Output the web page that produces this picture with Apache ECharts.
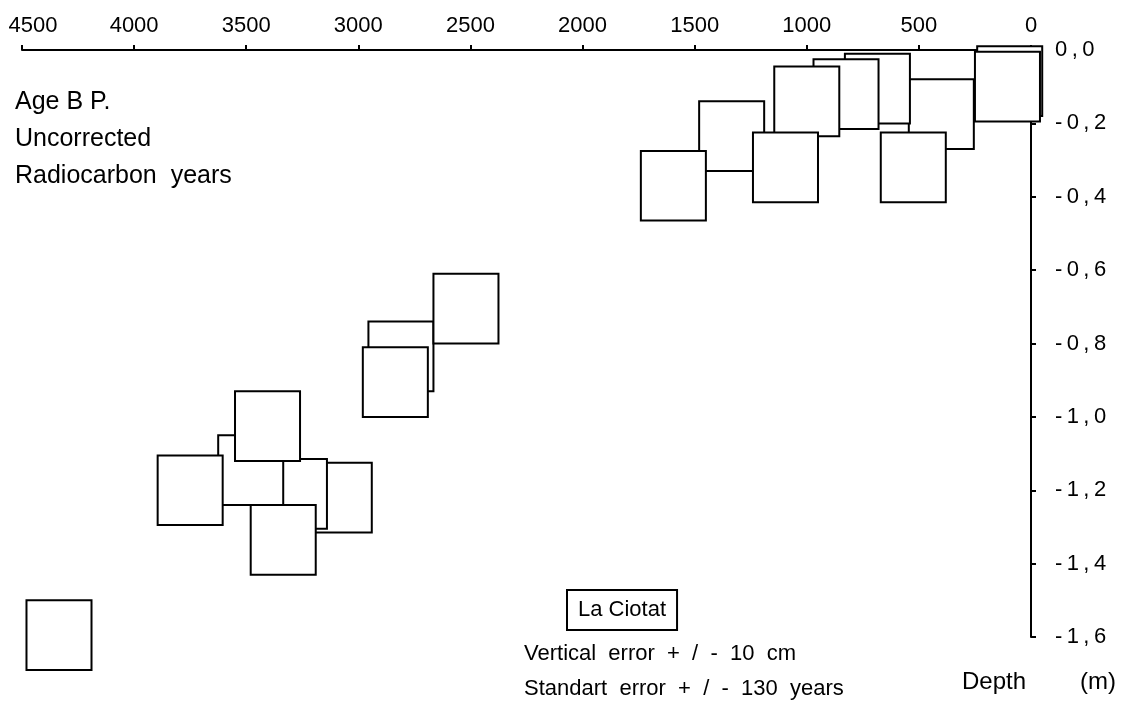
<!DOCTYPE html>
<html>
<head>
<meta charset="utf-8">
<script src="https://cdn.jsdelivr.net/npm/echarts@6/dist/echarts.min.js"></script>
<style>
html, body { margin: 0; background: #fff; }
#chart { width: 1133px; height: 707px; }
</style>
</head>
<body>
<div id="chart"></div>
<script>
// radiocarbon samples, drawn back to front (later boxes hide earlier ones)
var ages   = [95, 105, 400, 525, 685, 825, 1000, 1335, 1095, 1595,
              2810, 2520, 2835, 3085, 3285, 3480, 3405, 3750, 3335, 4335];
var depths = [-0.085, -0.10, -0.175, -0.32, -0.105, -0.12, -0.14, -0.235, -0.32, -0.37,
              -0.835, -0.705, -0.905, -1.22, -1.21, -1.145, -1.025, -1.20, -1.335, -1.595];

// half box size as drawn (years, metres)
var AGE_ERR = 145;
var DEPTH_ERR = 0.095;

var FONT = 'Liberation Sans';
var TS = '\u2009';

var myChart = echarts.init(document.getElementById('chart'));

var points = ages.map(function (a, i) { return [a, depths[i]]; });

myChart.setOption({
	animation: false,
	grid: { left: 22, right: 102, top: 50, bottom: 70, outerBoundsMode: 'none' },
	xAxis: {
		type: 'value',
		position: 'top',
		inverse: true,
		min: 0,
		max: 4500,
		interval: 500,
		axisLine: { lineStyle: { color: '#000', width: 2 } },
		axisTick: { length: 5, lineStyle: { color: '#000', width: 2 } },
		splitLine: { show: false },
		axisLabel: {
			color: '#000', fontSize: 22, fontFamily: FONT, margin: 13,
			formatter: function (v) {
				// first label sits right of its tick in the original
				return v === 4500 ? '{first|' + v + '}' : String(v);
			},
			rich: {
				first: { fontSize: 22, fontFamily: FONT, color: '#000', padding: [0, 0, 0, 22] }
			}
		}
	},
	yAxis: {
		type: 'value',
		position: 'right',
		min: -1.6,
		max: 0,
		interval: 0.2,
		axisLine: { lineStyle: { color: '#000', width: 2 } },
		axisTick: { length: 5, lineStyle: { color: '#000', width: 2 } },
		splitLine: { show: false },
		axisLabel: {
			color: '#000', fontSize: 22, fontFamily: FONT, margin: 24,
			padding: [0, 0, 10, 0],
			formatter: function (v) {
				if (Math.abs(v) < 1e-9) return '0' + TS + ',' + TS + '0';
				var s = v.toFixed(1).replace('.', ',');
				return s.split('').join(TS);
			}
		}
	},
	series: [{
		type: 'custom',
		clip: false,
		data: points,
		renderItem: function (params, api) {
			var a = api.value(0), d = api.value(1);
			var p0 = api.coord([a + AGE_ERR, d + DEPTH_ERR]);
			var p1 = api.coord([a - AGE_ERR, d - DEPTH_ERR]);
			return {
				type: 'rect',
				shape: {
					x: Math.min(p0[0], p1[0]),
					y: Math.min(p0[1], p1[1]),
					width: Math.abs(p1[0] - p0[0]),
					height: Math.abs(p1[1] - p0[1])
				},
				style: { fill: '#fff', stroke: '#000', lineWidth: 2 }
			};
		}
	}],
	graphic: [
		{ type: 'text', left: 15, top: 90, style: { text: 'Age B P.', font: '25px ' + FONT, fill: '#000' } },
		{ type: 'text', left: 15, top: 127, style: { text: 'Uncorrected', font: '25px ' + FONT, fill: '#000' } },
		{ type: 'text', left: 15, top: 164, style: { text: 'Radiocarbon  years', font: '25px ' + FONT, fill: '#000' } },
		{
			type: 'text', left: 566, top: 589,
			style: {
				text: 'La Ciotat', font: '22px ' + FONT, fill: '#000',
				padding: [9, 11, 9, 11], borderColor: '#000', borderWidth: 2
			}
		},
		{ type: 'text', left: 524, top: 643, style: { text: 'Vertical  error  +  /  -  10  cm', font: '22px ' + FONT, fill: '#000' } },
		{ type: 'text', left: 524, top: 678, style: { text: 'Standart  error  +  /  -  130  years', font: '22px ' + FONT, fill: '#000' } },
		{ type: 'text', left: 962, top: 670, style: { text: 'Depth', font: '24px ' + FONT, fill: '#000' } },
		{ type: 'text', left: 1080, top: 670, style: { text: '(m)', font: '24px ' + FONT, fill: '#000' } }
	]
});

window.addEventListener('resize', function () {
	myChart.resize();
});
</script>
</body>
</html>
